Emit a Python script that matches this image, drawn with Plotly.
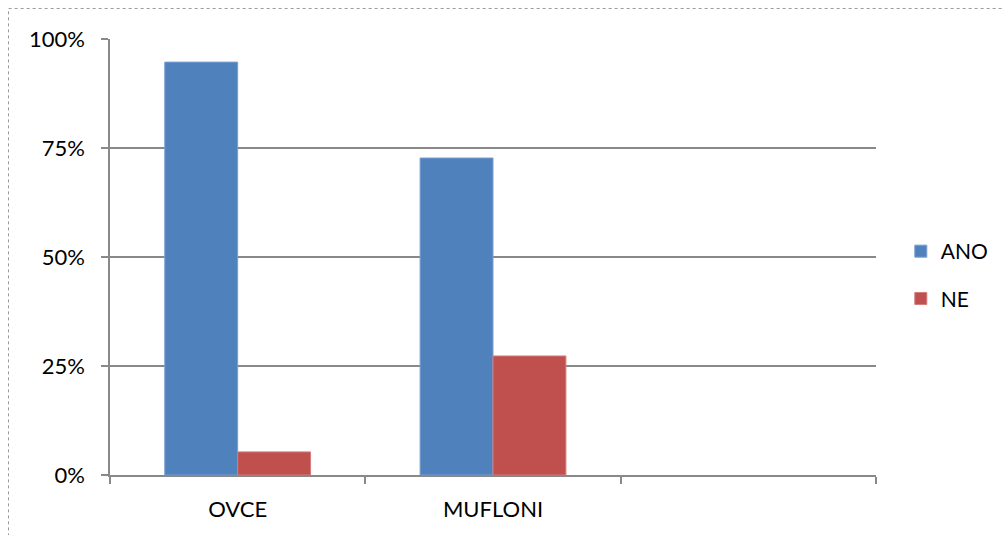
import plotly.graph_objects as go

# Survey answers per animal group (share of respondents, %)
categories = ["OVCE", "MUFLONI", " "]
ano_values = [94.7, 72.7, None]
ne_values = [5.3, 27.3, None]
y_ticks = [0, 25, 50, 75, 100]
y_tick_labels = ["0%", "25%", "50%", "75%", "100%"]

FONT = "Lato"
GRID = "#898989"

fig = go.Figure()
fig.add_trace(go.Bar(
    name="ANO", x=categories, y=ano_values,
    marker=dict(color="#4F81BD", line=dict(color="#7A9FD0", width=1)),
    legendgroup="a",
))
fig.add_trace(go.Bar(
    name="NE", x=categories, y=ne_values,
    marker=dict(color="#C0504D", line=dict(color="#D27E7C", width=1)),
    legendgroup="b",
))

fig.update_layout(
    width=1002, height=535,
    margin=dict(l=110, r=126, t=39, b=60),
    paper_bgcolor="white", plot_bgcolor="white",
    barmode="group", bargap=0.429, bargroupgap=0,
    font=dict(family=FONT, size=22, color="#000000"),
    showlegend=True,
    legend=dict(
        xref="container", yref="container",
        x=0.899, xanchor="left", y=0.486, yanchor="middle",
        font=dict(family=FONT, size=21),
        tracegroupgap=17, traceorder="grouped",
        bgcolor="rgba(0,0,0,0)",
    ),
    shapes=[dict(
        type="rect", xref="paper", yref="paper",
        x0=-0.1325, x1=1.2, y0=-0.2, y1=1.07,
        line=dict(color="#9a9a9a", width=1, dash="dot"),
        fillcolor="rgba(0,0,0,0)", layer="below",
    )],
)

fig.update_xaxes(
    type="category", categoryorder="array", categoryarray=categories,
    range=[-0.5, 2.5], automargin=False,
    showline=True, linecolor=GRID, linewidth=1.5,
    ticks="outside", tickson="boundaries", ticklen=7, tickcolor=GRID, tickwidth=1.5,
    ticklabelstandoff=14,
    showgrid=False, zeroline=False,
    tickfont=dict(family=FONT, size=22),
)
fig.update_yaxes(
    range=[0, 100], tickmode="array", tickvals=y_ticks, ticktext=y_tick_labels,
    automargin=False,
    showline=True, linecolor=GRID, linewidth=1.5,
    ticks="outside", ticklen=7, tickcolor=GRID, tickwidth=1.5,
    ticklabelstandoff=12,
    showgrid=True, gridcolor=GRID, gridwidth=1.5,
    zeroline=False,
    tickfont=dict(family=FONT, size=22),
)

fig.write_html("out.html")
